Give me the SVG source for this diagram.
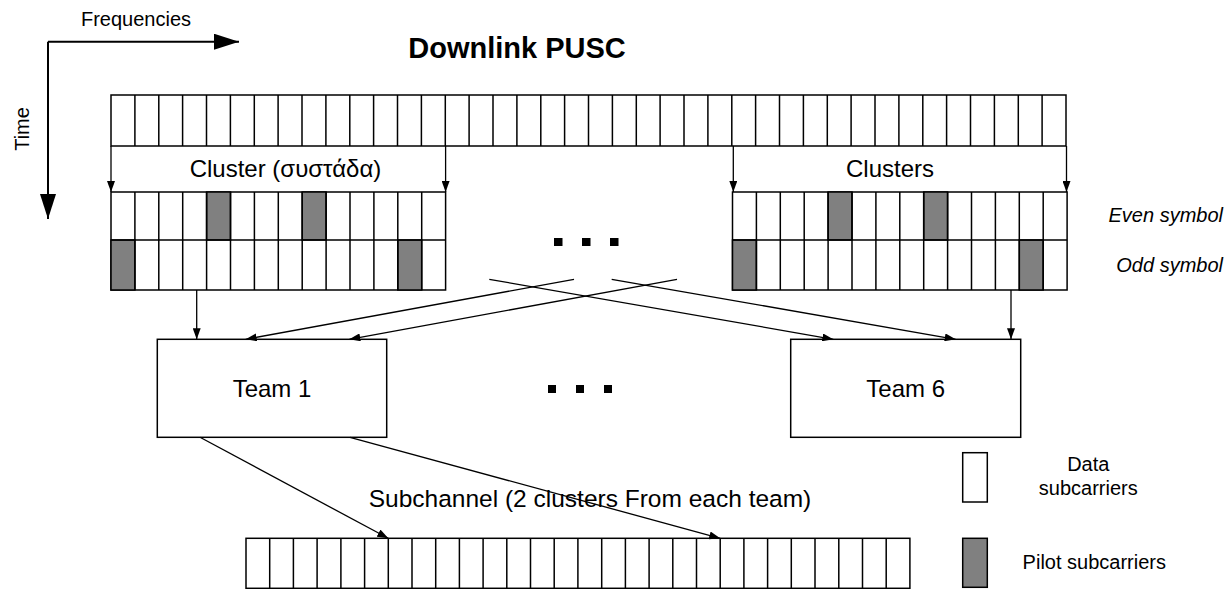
<svg xmlns="http://www.w3.org/2000/svg" width="1228" height="589" viewBox="0 0 1228 589">
<style>
text{font-family:"Liberation Sans",Arial,sans-serif;fill:#000}
.cell{fill:#fff;stroke:#000;stroke-width:1.5}
.grid{fill:none;stroke:#000;stroke-width:1.5}
.pilot{fill:#808080;stroke:#000;stroke-width:1.5}
.con{fill:none;stroke:#000;stroke-width:1.3}
.axis{fill:none;stroke:#000;stroke-width:2}
.t24{font-size:24px}
.t20{font-size:20px}
.dot{fill:#000}
</style>
<defs>
<marker id="ah" markerUnits="userSpaceOnUse" markerWidth="11" markerHeight="8" refX="11" refY="4" orient="auto"><path d="M0,0 L11,4 L0,8 z" fill="#000"/></marker>
<marker id="big" markerUnits="userSpaceOnUse" markerWidth="25" markerHeight="16" refX="25" refY="8" orient="auto"><path d="M0,0 L25,8 L0,16 z" fill="#000"/></marker>
</defs>
<rect width="1228" height="589" fill="#fff"/>

<g id="axes">
<line class="axis" x1="48" y1="41.7" x2="239" y2="41.7" marker-end="url(#big)"/>
<line class="axis" x1="48" y1="41.7" x2="48" y2="219" marker-end="url(#big)"/>
<text class="t20" x="136" y="25.7" text-anchor="middle">Frequencies</text>
<text class="t20" transform="translate(29,129) rotate(-90)" text-anchor="middle">Time</text>
</g>

<text id="title" x="517" y="57.7" text-anchor="middle" font-size="29" font-weight="bold">Downlink PUSC</text>

<g id="top-row">
<rect class="cell" x="111" y="95" width="955" height="51"/>
<path class="grid" d="M134.9,95V146M158.8,95V146M182.6,95V146M206.5,95V146M230.4,95V146M254.3,95V146M278.1,95V146M302,95V146M325.9,95V146M349.8,95V146M373.6,95V146M397.5,95V146M421.4,95V146M445.3,95V146M469.1,95V146M493,95V146M516.9,95V146M540.8,95V146M564.6,95V146M588.5,95V146M612.4,95V146M636.3,95V146M660.1,95V146M684,95V146M707.9,95V146M731.8,95V146M755.6,95V146M779.5,95V146M803.4,95V146M827.3,95V146M851.1,95V146M875,95V146M898.9,95V146M922.8,95V146M946.6,95V146M970.5,95V146M994.4,95V146M1018.3,95V146M1042.1,95V146"/>
</g>

<g id="cluster-left">
<rect class="cell" x="111" y="192" width="334.6" height="98"/>
<rect class="pilot" x="206.6" y="192" width="23.9" height="48"/>
<rect class="pilot" x="302.2" y="192" width="23.9" height="48"/>
<rect class="pilot" x="111" y="240" width="23.9" height="50"/>
<rect class="pilot" x="397.8" y="240" width="23.9" height="50"/>
<path class="grid" d="M111,240H445.6M134.9,192V290M158.8,192V290M182.7,192V290M206.6,192V290M230.5,192V290M254.4,192V290M278.3,192V290M302.2,192V290M326.1,192V290M350,192V290M373.9,192V290M397.8,192V290M421.7,192V290"/>
<text class="t24" x="285.5" y="176.7" text-anchor="middle">Cluster (συστάδα)</text>
</g>

<g id="cluster-right">
<rect class="cell" x="732.5" y="192" width="334.6" height="98"/>
<rect class="pilot" x="828.1" y="192" width="23.9" height="48"/>
<rect class="pilot" x="923.7" y="192" width="23.9" height="48"/>
<rect class="pilot" x="732.5" y="240" width="23.9" height="50"/>
<rect class="pilot" x="1019.3" y="240" width="23.9" height="50"/>
<path class="grid" d="M732.5,240H1067.1M756.4,192V290M780.3,192V290M804.2,192V290M828.1,192V290M852,192V290M875.9,192V290M899.8,192V290M923.7,192V290M947.6,192V290M971.5,192V290M995.4,192V290M1019.3,192V290M1043.2,192V290"/>
<text class="t24" x="890" y="176.7" text-anchor="middle">Clusters</text>
</g>

<g id="symbol-labels">
<text class="t20" x="1223" y="222.3" text-anchor="end" font-style="italic">Even symbol</text>
<text class="t20" x="1223" y="271.7" text-anchor="end" font-style="italic">Odd symbol</text>
</g>

<g id="ellipsis-top">
<rect class="dot" x="554" y="238" width="8.5" height="8"/>
<rect class="dot" x="582" y="238" width="8.5" height="8"/>
<rect class="dot" x="610" y="238" width="8.5" height="8"/>
</g>
<g id="ellipsis-mid">
<rect class="dot" x="548" y="385" width="8" height="8"/>
<rect class="dot" x="576" y="385" width="8" height="8"/>
<rect class="dot" x="604" y="385" width="8" height="8"/>
</g>

<g id="team1">
<rect class="cell" x="157.3" y="339.3" width="229.4" height="98"/>
<text class="t24" x="272" y="396.7" text-anchor="middle">Team 1</text>
</g>
<g id="team6">
<rect class="cell" x="790.7" y="339.3" width="230" height="98"/>
<text class="t24" x="905.7" y="396.7" text-anchor="middle">Team 6</text>
</g>

<g id="subchannel-row">
<rect class="cell" x="246" y="538.3" width="663.9" height="50"/>
<path class="grid" d="M269.7,538.3V588.3M293.4,538.3V588.3M317.1,538.3V588.3M340.9,538.3V588.3M364.6,538.3V588.3M388.3,538.3V588.3M412,538.3V588.3M435.7,538.3V588.3M459.4,538.3V588.3M483.1,538.3V588.3M506.8,538.3V588.3M530.5,538.3V588.3M554.2,538.3V588.3M577.9,538.3V588.3M601.7,538.3V588.3M625.4,538.3V588.3M649.1,538.3V588.3M672.8,538.3V588.3M696.5,538.3V588.3M720.2,538.3V588.3M743.9,538.3V588.3M767.6,538.3V588.3M791.3,538.3V588.3M815,538.3V588.3M838.8,538.3V588.3M862.5,538.3V588.3M886.2,538.3V588.3"/>
<text x="590" y="507" text-anchor="middle" font-size="24.5">Subchannel (2 clusters From each team)</text>
</g>

<g id="legend-data">
<rect class="cell" x="962.7" y="452.7" width="24.6" height="49.3"/>
<text class="t20" x="1088.3" y="471" text-anchor="middle">Data</text>
<text class="t20" x="1088.3" y="495" text-anchor="middle">subcarriers</text>
</g>
<g id="legend-pilot">
<rect class="pilot" x="962.7" y="538.3" width="24.6" height="49"/>
<text class="t20" x="1094.3" y="569" text-anchor="middle">Pilot subcarriers</text>
</g>

<g id="connectors">
<line class="con" x1="111" y1="146" x2="111" y2="192" marker-end="url(#ah)"/>
<line class="con" x1="445.6" y1="146" x2="445.6" y2="192" marker-end="url(#ah)"/>
<line class="con" x1="733.3" y1="146" x2="733.3" y2="192" marker-end="url(#ah)"/>
<line class="con" x1="1066.5" y1="146" x2="1066.5" y2="192" marker-end="url(#ah)"/>
<line class="con" x1="196.7" y1="290" x2="196.7" y2="339.3" marker-end="url(#ah)"/>
<line class="con" x1="1011" y1="290" x2="1011" y2="339.3" marker-end="url(#ah)"/>
<line class="con" x1="574" y1="279.3" x2="245.7" y2="339.3" marker-end="url(#ah)"/>
<line class="con" x1="677" y1="279.3" x2="349.3" y2="339.3" marker-end="url(#ah)"/>
<line class="con" x1="489.3" y1="279.3" x2="833.3" y2="339.3" marker-end="url(#ah)"/>
<line class="con" x1="611.7" y1="279.3" x2="955.7" y2="339.3" marker-end="url(#ah)"/>
<line class="con" x1="200" y1="437.3" x2="388.3" y2="538.3" marker-end="url(#ah)"/>
<line class="con" x1="350" y1="437.3" x2="720.2" y2="538.3" marker-end="url(#ah)"/>
</g>
</svg>
